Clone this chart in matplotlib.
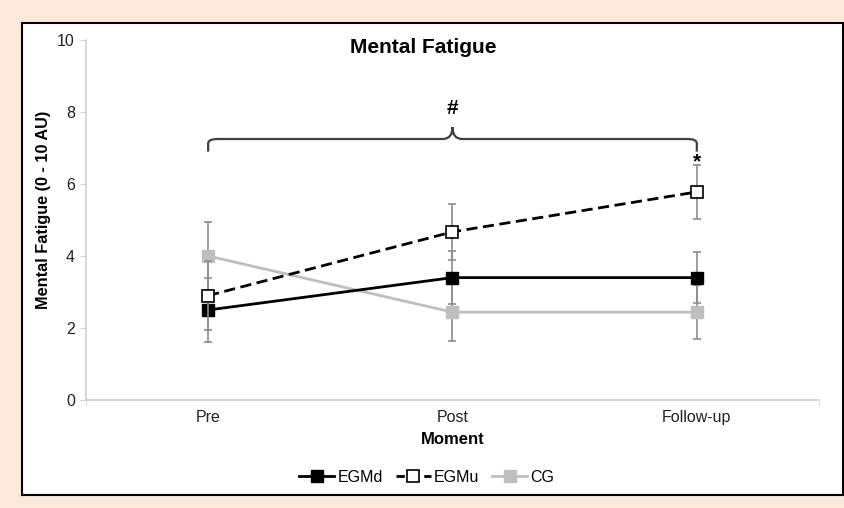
import matplotlib.pyplot as plt
import matplotlib.patches as mpatches
from matplotlib.lines import Line2D
from matplotlib.path import Path
import numpy as np

plt.rcParams['font.family'] = ['Liberation Sans', 'DejaVu Sans']

# data
moments = ['Pre', 'Post', 'Follow-up']
egmd = [2.5, 3.4, 3.4]
egmd_err = [0.9, 0.74, 0.7]
egmu = [2.9, 4.67, 5.78]
egmu_err = [0.96, 0.78, 0.75]
cg = [4.0, 2.44, 2.44]
cg_err = [0.95, 0.79, 0.75]

fig = plt.figure(figsize=(8.45, 5.08), dpi=100)
fig.patch.set_facecolor('#fce9dc')
# white panel with black border
fig.patches.append(mpatches.Rectangle((22/845, 1-495/508), (843-22)/845, (495-23)/508,
                                      transform=fig.transFigure, facecolor='white',
                                      edgecolor='black', linewidth=1.5, zorder=-5))

ax = fig.add_axes([86/845, 1-400/508, (819-86)/845, 360/508])
ax.set_facecolor('none')
x = np.arange(len(moments))

ecol = '#8c8c8c'
ax.errorbar(x, cg, yerr=cg_err, color='#bfbfbf', lw=2, marker='s', ms=9,
            mfc='#bfbfbf', mec='#bfbfbf', ecolor=ecol, elinewidth=1.2, capsize=3,
            capthick=1.2, zorder=2)
ax.errorbar(x, egmd, yerr=egmd_err, color='black', lw=2, marker='s', ms=9,
            mfc='black', mec='black', ecolor=ecol, elinewidth=1.2, capsize=3,
            capthick=1.2, zorder=3)
ax.errorbar(x, egmu, yerr=egmu_err, color='black', lw=2, ls='--', dashes=(4, 2),
            marker='s', ms=9, mfc='white', mec='black', mew=1.2, ecolor=ecol,
            elinewidth=1.2, capsize=3, capthick=1.2, zorder=4)

ax.set_xlim(-0.5, 2.5)
ax.set_ylim(0, 10)
ax.set_yticks([0, 2, 4, 6, 8, 10])
ax.set_xticks(x)
ax.set_xticklabels(moments)
ax.set_xticks([-0.5, 2.5], minor=True)
ax.tick_params(axis='x', which='major', length=0, labelsize=11.5, pad=7, colors='#222222')
ax.tick_params(axis='x', which='minor', length=4, color='#d0d0d0')
ax.tick_params(axis='y', length=4, color='#d0d0d0', labelsize=11.5, labelcolor='#222222', pad=4)
for s in ['top', 'right']:
    ax.spines[s].set_visible(False)
for s in ['left', 'bottom']:
    ax.spines[s].set_color('#d0d0d0')
    ax.spines[s].set_linewidth(1.2)

ax.set_xlabel('Moment', fontweight='bold', fontsize=12, labelpad=5)
ax.set_ylabel('Mental Fatigue (0 - 10 AU)', fontweight='bold', fontsize=11.7)
ax.yaxis.set_label_coords(-35/733, 0.528)
ax.text(0.88, 9.8, 'Mental Fatigue', fontweight='bold', fontsize=15, ha='center', va='center')

# bracket
yb, yend, ytop, r = 7.25, 6.9, 7.58, 0.04
verts = [(0, yend), (0, yb - 0.12), (0, yb), (r, yb), (1 - r, yb), (1, yb), (1, ytop),
         (1, yb), (1 + r, yb), (2 - r, yb), (2, yb), (2, yb - 0.12), (2, yend)]
codes = [Path.MOVETO, Path.LINETO, Path.CURVE3, Path.CURVE3, Path.LINETO, Path.CURVE3,
         Path.CURVE3, Path.CURVE3, Path.CURVE3, Path.LINETO, Path.CURVE3, Path.CURVE3,
         Path.LINETO]
ax.add_patch(mpatches.PathPatch(Path(verts, codes), fill=False, edgecolor='#404040',
                                lw=1.6, zorder=5))
ax.text(1, 8.1, '#', fontweight='bold', fontsize=15, ha='center', va='center')
ax.text(2, 6.62, '*', fontweight='bold', fontsize=15, ha='center', va='center')

handles = [Line2D([], [], color='black', lw=2, marker='s', ms=8, mfc='black', mec='black'),
           Line2D([], [], color='black', lw=2, ls='--', dashes=(3, 2), marker='s', ms=8,
                  mfc='white', mec='black', mew=1.2),
           Line2D([], [], color='#bfbfbf', lw=2, marker='s', ms=8, mfc='#bfbfbf', mec='#bfbfbf')]
fig.legend(handles, ['EGMd', 'EGMu', 'CG'], loc='center',
           bbox_to_anchor=(427/845, 1-477/508), ncol=3, frameon=False, fontsize=11.5,
           handlelength=2.2, columnspacing=0.8, handletextpad=0.2)

fig.savefig('out.png', dpi=100, facecolor=fig.get_facecolor())
